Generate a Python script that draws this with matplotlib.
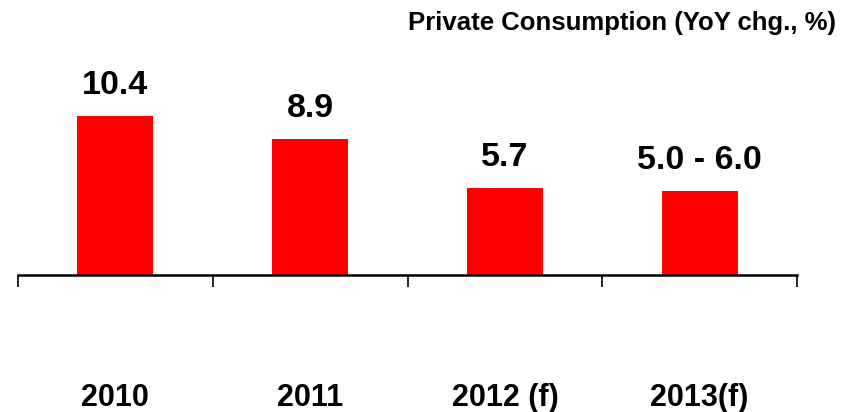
import matplotlib.pyplot as plt
import numpy as np

plt.rcParams['font.family'] = ['Liberation Sans', 'DejaVu Sans']

years = ['2010', '2011', '2012 (f)', '2013(f)']
growth = [10.4, 8.9, 5.7, 5.5]          # 2013 drawn at the middle of its forecast range
value_labels = ['10.4', '8.9', '5.7', '5.0 - 6.0']
title = 'Private Consumption (YoY chg., %)'

W, H = 852, 412
fig = plt.figure(figsize=(W / 100, H / 100), dpi=100)

# axes placed in pixel terms: baseline at y=275 px from top, 15.3 px per unit
left, right = 18, 797
base = 275
ymax = 12
top = base - ymax * 15.3
ax = fig.add_axes([left / W, (H - base) / H, (right - left) / W, (base - top) / H])

x = np.arange(len(years))
bars = ax.bar(x, growth, width=0.39, color='#ff0000', zorder=2)

for b, txt in zip(bars, value_labels):
    ax.annotate(txt, (b.get_x() + b.get_width() / 2, b.get_height()),
                xytext=(0, 11), textcoords='offset points',
                ha='center', va='bottom', fontsize=24.5, fontweight='bold',
                annotation_clip=False)

ax.set_xlim(-0.5, len(years) - 0.5)
ax.set_ylim(0, ymax)

for s in ['left', 'right', 'top']:
    ax.spines[s].set_visible(False)
ax.spines['bottom'].set_linewidth(1.8)
ax.set_yticks([])

# boundary ticks between categories, labels sit on minor ticks at bar centres
ax.set_xticks(np.arange(len(years) + 1) - 0.5)
ax.set_xticklabels([])
ax.tick_params(axis='x', which='major', length=8.5, width=1.2, direction='out')
ax.set_xticks(x, minor=True)
ax.set_xticklabels(years, minor=True, fontsize=22, fontweight='bold')
ax.tick_params(axis='x', which='minor', length=0, pad=78)

fig.text(836 / W, 1 - 11 / H, title, ha='right', va='top',
         fontsize=18.5, fontweight='bold')

fig.savefig('out.png', dpi=100)
